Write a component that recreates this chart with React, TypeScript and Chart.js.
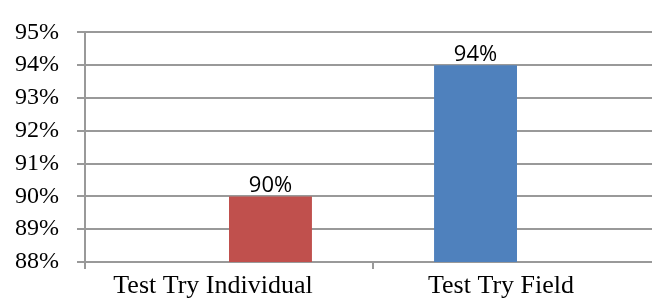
import React, { useEffect, useRef } from "react";
import { Chart, registerables } from "chart.js";

Chart.register(...registerables);

const categories = ["Test Try Individual", "Test Try Field"];
const blueSeries: (number | null)[] = [null, 94];
const redSeries: (number | null)[] = [90, null];
const yMin = 88;
const yMax = 95;
const yStep = 1;

const dataLabelPlugin = {
  id: "dataLabels",
  afterDatasetsDraw(chart: any) {
    const ctx = chart.ctx;
    ctx.save();
    ctx.font = "22px 'Open Sans'";
    ctx.fillStyle = "#000";
    ctx.textAlign = "center";
    ctx.textBaseline = "alphabetic";
    chart.data.datasets.forEach((ds: any, di: number) => {
      const meta = chart.getDatasetMeta(di);
      meta.data.forEach((el: any, i: number) => {
        const v = ds.data[i];
        if (v === null || v === undefined) return;
        ctx.fillText(v + "%", el.x, el.y - 4);
      });
    });
    ctx.restore();
  },
};

export default function App() {
  const ref = useRef<HTMLCanvasElement>(null);
  useEffect(() => {
    if (!ref.current) return;
    const chart = new Chart(ref.current, {
      type: "bar",
      data: {
        labels: categories,
        datasets: [
          {
            data: blueSeries,
            backgroundColor: "#4F81BD",
            categoryPercentage: 0.576,
            barPercentage: 1,
          },
          {
            data: redSeries,
            backgroundColor: "#C0504D",
            categoryPercentage: 0.576,
            barPercentage: 1,
          },
        ],
      },
      options: {
        responsive: false,
        animation: false,
        devicePixelRatio: 1,
        layout: { padding: { top: 30, right: 0, left: 0, bottom: 0 } },
        plugins: { legend: { display: false }, tooltip: { enabled: false } },
        scales: {
          x: {
            type: "category",
            grid: {
              offset: true,
              drawOnChartArea: false,
              drawTicks: true,
              tickLength: 7,
              color: "#999",
              lineWidth: 2,
            },
            border: { display: true, color: "#999", width: 2 },
            ticks: {
              font: { family: "'Liberation Serif'", size: 26 },
              color: "#000",
              padding: 2,
              labelOffset: -16,
              maxRotation: 0,
              autoSkip: false,
            },
            afterFit: (s: any) => {
              s.height = 40;
            },
          },
          y: {
            min: yMin,
            max: yMax,
            ticks: {
              stepSize: yStep,
              font: { family: "'Liberation Serif'", size: 24 },
              color: "#000",
              padding: 18,
              callback: (v: any) => v + "%",
            },
            grid: {
              color: "#999",
              lineWidth: 2,
              tickLength: 8,
              drawTicks: true,
            },
            border: { display: true, color: "#999", width: 2 },
            afterFit: (s: any) => {
              s.width = 85;
            },
          },
        },
      },
      plugins: [dataLabelPlugin],
    } as any);
    return () => chart.destroy();
  }, []);
  return (
    <div style={{ position: "fixed", left: 0, top: 0, width: 661, height: 302, background: "#fff" }}>
      <canvas ref={ref} width={661} height={302} style={{ display: "block" }} />
    </div>
  );
}
